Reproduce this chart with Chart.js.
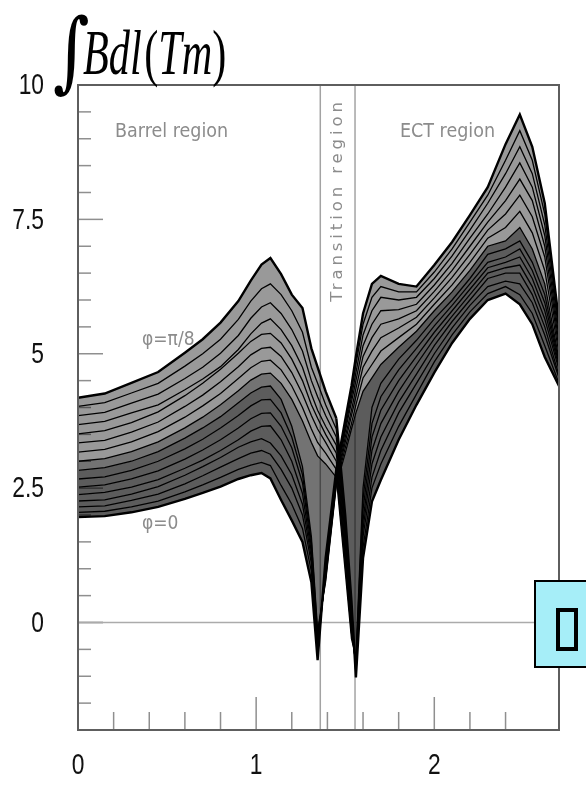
<!DOCTYPE html>
<html><head><meta charset="utf-8">
<script src="https://cdn.jsdelivr.net/npm/chart.js@4.4.1/dist/chart.umd.min.js"></script>
<style>
html,body{margin:0;padding:0;background:#fff;width:586px;height:785px;overflow:hidden;}
#wrap{position:relative;width:586px;height:785px;}
canvas{position:absolute;left:0;top:0;}
.t{position:absolute;white-space:nowrap;line-height:1;}
.note{color:#8c8c8c;font-family:'DejaVu Sans Condensed','DejaVu Sans',sans-serif;}
#box{position:absolute;left:534px;top:580px;width:60px;height:88px;background:#a6eef8;border:2px solid #000;box-sizing:border-box;}
#box span{position:absolute;left:20px;top:26px;width:22px;height:43px;border:4px solid #000;box-sizing:border-box;}
</style></head><body>
<div id="wrap">
<canvas id="c" width="586" height="785"></canvas>
<div class="t" style="left:53px;top:-1px;font:88px 'DejaVu Serif',serif;transform:scaleX(0.8);transform-origin:0 0;">∫</div>
<div class="t" style="left:83px;top:16px;font:italic 64px 'Liberation Serif',serif;transform:scaleX(0.66);transform-origin:0 0;">Bdl<span style="font-style:normal;margin-left:4px">(</span>Tm<span style="font-style:normal">)</span></div>
<div class="t note" style="left:115px;top:121px;font-size:19.5px;">Barrel region</div>
<div class="t note" style="left:400px;top:121px;font-size:19.5px;">ECT region</div>
<div class="t note" style="left:234px;top:191px;width:208px;text-align:center;font-size:16.5px;letter-spacing:3.9px;font-family:'DejaVu Sans',sans-serif;transform:rotate(-90deg);transform-origin:104px 9px;">Transition region</div>
<div class="t note" style="left:142px;top:329px;font-size:19px;">φ=π/8</div>
<div class="t note" style="left:142px;top:513px;font-size:19px;">φ=0</div>
<div id="box"><span></span></div>
</div>
<script>
// pseudorapidity |eta| sampling points (shared by all curves)
const eta = [0,0.15,0.3,0.45,0.6,0.7,0.8,0.9,0.97,1.03,1.08,1.14,1.2,1.26,1.31,1.345,1.39,1.45,1.5,1.535,1.56,1.6,1.65,1.7,1.8,1.9,2.0,2.1,2.2,2.3,2.4,2.48,2.55,2.62,2.7];

// azimuth labels of the curves, phi = 0 ... pi/8
const phiLabels = ['φ=0','φ=π/120','φ=π/60','φ=π/40','φ=π/30','φ=π/24','φ=π/20','φ=7π/120','φ=π/15','φ=3π/40','φ=π/12','φ=11π/120','φ=π/10','φ=13π/120','φ=7π/60','φ=π/8'];

// field integral (Tm) for each phi
const bdl00 = [1.96,1.98,2.05,2.15,2.30,2.41,2.53,2.67,2.74,2.78,2.68, 2.28,1.90,1.50,0.75,-0.70,1.20,2.85,3.77,4.40,4.95, 5.75,6.30,6.45,6.30,6.25,6.65,7.08,7.58,8.10,8.90,9.45,8.85,7.80,5.60];
const bdl01 = [2.05,2.07,2.15,2.26,2.43,2.56,2.70,2.85,2.93,2.98,2.92, 2.55,2.20,1.75,0.95,-0.62,1.10,2.80,3.70,4.30,4.80, 5.55,6.05,6.25,6.15,6.15,6.52,6.95,7.45,7.95,8.60,9.15,8.60,7.60,5.50];
const bdl02 = [2.15,2.17,2.27,2.39,2.58,2.73,2.89,3.05,3.15,3.20,3.13, 2.85,2.50,2.00,1.10,-0.55,1.00,2.75,3.62,4.20,4.65, 5.35,5.80,6.05,6.00,6.05,6.40,6.82,7.30,7.80,8.35,8.85,8.35,7.40,5.40];
const bdl03 = [2.26,2.28,2.39,2.53,2.74,2.90,3.07,3.26,3.36,3.42,3.34, 3.10,2.75,2.20,1.20,-0.45,0.95,2.70,3.55,4.10,4.50, 5.15,5.55,5.80,5.82,5.92,6.28,6.68,7.15,7.60,8.10,8.55,8.10,7.20,5.30];
const bdl04 = [2.38,2.42,2.52,2.66,2.87,3.02,3.20,3.40,3.56,3.65,3.66, 3.40,3.00,2.40,1.30,-0.38,0.90,2.65,3.45,3.95,4.35, 4.95,5.30,5.55,5.65,5.80,6.16,6.55,7.00,7.45,7.85,8.25,7.85,7.00,5.20];
const bdl05 = [2.52,2.56,2.67,2.82,3.04,3.21,3.40,3.62,3.79,3.89,3.90, 3.65,3.25,2.60,1.40,-0.30,0.85,2.62,3.35,3.85,4.20, 4.75,5.05,5.30,5.48,5.68,6.04,6.42,6.85,7.30,7.60,7.95,7.55,6.80,5.10];
const bdl06 = [2.67,2.71,2.83,3.00,3.23,3.41,3.62,3.85,4.03,4.14,4.15, 3.90,3.45,2.75,1.50,-0.22,0.80,2.58,3.25,3.70,4.05, 4.55,4.80,5.05,5.30,5.55,5.92,6.28,6.70,7.15,7.35,7.65,7.25,6.55,5.00];
const bdl07 = [2.83,2.88,3.00,3.18,3.43,3.62,3.83,4.09,4.27,4.38,4.40, 4.15,3.65,2.90,1.60,-0.15,0.76,2.55,3.15,3.60,3.90, 4.30,4.55,4.80,5.12,5.42,5.80,6.15,6.55,7.00,7.10,7.35,6.95,6.30,4.90];
const bdl08 = [3.00,3.05,3.18,3.36,3.62,3.82,4.05,4.31,4.51,4.62,4.64, 4.45,4.15,3.75,3.35,3.10,2.95,2.70,0.95,-0.30,-0.65, 2.50,4.00,4.45,4.90,5.25,5.65,6.00,6.40,6.85,6.95,7.10,6.70,6.10,4.85];
const bdl09 = [3.17,3.22,3.36,3.55,3.82,4.03,4.26,4.54,4.74,4.86,4.88, 4.70,4.40,4.00,3.60,3.35,3.15,2.85,1.15,-0.20,-0.72, 2.30,3.70,4.20,4.70,5.10,5.52,5.90,6.30,6.70,6.80,6.95,6.55,5.95,4.80];
const bdl10 = [3.34,3.39,3.54,3.73,4.02,4.23,4.48,4.76,4.98,5.10,5.12, 4.95,4.65,4.25,3.85,3.60,3.35,3.00,1.30,-0.10,-0.78, 2.10,3.45,3.95,4.50,4.95,5.40,5.80,6.20,6.60,6.70,6.80,6.40,5.80,4.75];
const bdl11 = [3.51,3.57,3.72,3.92,4.22,4.45,4.71,5.01,5.23,5.36,5.38, 5.20,4.90,4.50,4.05,3.80,3.50,3.15,1.45,0.00,-0.84, 1.90,3.20,3.70,4.30,4.80,5.28,5.70,6.10,6.50,6.60,6.65,6.25,5.65,4.70];
const bdl12 = [3.68,3.74,3.90,4.05,4.33,4.53,4.76,5.08,5.37,5.57,5.65, 5.45,5.15,4.75,4.25,3.95,3.65,3.30,1.60,0.10,-0.88, 1.75,2.95,3.45,4.10,4.62,5.15,5.60,6.00,6.40,6.50,6.50,6.10,5.50,4.60];
const bdl13 = [3.85,3.91,4.08,4.25,4.54,4.75,5.01,5.34,5.66,5.87,5.95, 5.75,5.45,5.05,4.50,4.20,3.85,3.45,1.75,0.20,-0.93, 1.60,2.70,3.20,3.90,4.45,5.00,5.48,5.90,6.25,6.35,6.30,5.95,5.35,4.55];
const bdl14 = [4.02,4.09,4.27,4.45,4.77,5.00,5.27,5.64,5.98,6.21,6.30, 6.10,5.80,5.40,4.75,4.45,4.05,3.60,1.85,0.30,-0.97, 1.40,2.50,2.95,3.65,4.25,4.85,5.35,5.78,6.12,6.25,6.10,5.75,5.15,4.45];
const bdl15 = [4.18,4.26,4.46,4.66,5.02,5.27,5.58,5.98,6.36,6.66,6.78, 6.48,6.10,5.85,5.10,4.75,4.30,3.80,2.00,0.40,-1.02, 1.20,2.25,2.65,3.40,4.05,4.65,5.20,5.65,6.00,6.12,5.92,5.55,4.94,4.40];

const curves = [bdl00,bdl01,bdl02,bdl03,bdl04,bdl05,bdl06,bdl07,bdl08,bdl09,bdl10,bdl11,bdl12,bdl13,bdl14,bdl15];

// region boundaries (eta) and axis ranges / tick labels
const transitionEdges = [1.36, 1.555];
const xRange = [0, 2.7];
const yRange = [-2, 10];
const xTickLabels = ['0','1','2'];
const yTickLabels = ['0','2.5','5','7.5','10'];

// shading between neighbouring curves: dense bundles look darker
const dark = 'rgba(0,0,0,0.64)', light = 'rgba(0,0,0,0.40)';
const bandShade = (k, etaStart) => {
  const lowGroup = k <= 7;
  if (etaStart < 1.4) return lowGroup ? dark : (k === 8 ? 'rgba(0,0,0,0.55)' : light);
  return lowGroup ? light : dark;
};

const datasets = curves.map((vals, k) => ({
  label: phiLabels[k],
  data: eta.map((e, i) => ({x: e, y: vals[i]})),
  borderColor: '#000',
  borderWidth: (k === 0 || k === 15) ? 2.4 : 1.3,
  pointRadius: 0,
  tension: 0,
  fill: k === 0 ? false : '-1',
  backgroundColor: k === 0 ? 'rgba(0,0,0,0)' : bandShade(k, 0),
  segment: {backgroundColor: c => k === 0 ? 'rgba(0,0,0,0)' : bandShade(k, c.p0.parsed.x)},
  order: 1
}));
transitionEdges.forEach(e => {
  datasets.push({label: 'edge', data: [{x: e, y: yRange[0]}, {x: e, y: yRange[1]}],
    borderColor: '#a3a3a3', borderWidth: 1.5, pointRadius: 0, fill: false, order: 5});
});
datasets.push({label: 'zero', data: [{x: xRange[0], y: 0}, {x: xRange[1], y: 0}],
  borderColor: '#ababab', borderWidth: 1.5, pointRadius: 0, fill: false, order: 5});

const near = (a, b) => Math.abs(a - b) < 1e-6;
const labelFont = "30px 'Liberation Sans', Arial, sans-serif";

const frameTicks = {
  id: 'frameTicks',
  beforeDatasetsDraw(chart) {
    const {ctx, chartArea: a, scales: {x, y}} = chart;
    ctx.save();
    ctx.lineWidth = 1.5;
    y.ticks.forEach(t => {
      const v = t.value;
      const major = near(v / 2.5, Math.round(v / 2.5));
      const py = y.getPixelForValue(v);
      ctx.strokeStyle = near(v, 0) ? '#555' : '#8f8f8f';
      ctx.beginPath(); ctx.moveTo(a.left, py); ctx.lineTo(a.left + (major ? 25 : 13), py); ctx.stroke();
    });
    ctx.strokeStyle = '#8f8f8f';
    x.ticks.forEach(t => {
      const v = t.value;
      if (!near(v / 0.2, Math.round(v / 0.2))) return;
      const major = near(v, Math.round(v));
      const px = x.getPixelForValue(v);
      ctx.beginPath(); ctx.moveTo(px, a.bottom); ctx.lineTo(px, a.bottom - (major ? 33 : 18)); ctx.stroke();
    });
    ctx.restore();
  },
  afterDatasetsDraw(chart) {
    const {ctx, chartArea: a, scales: {x, y}} = chart;
    ctx.save();
    ctx.strokeStyle = '#5e5e5e'; ctx.lineWidth = 2;
    ctx.strokeRect(a.left, a.top, a.right - a.left, a.bottom - a.top);
    // tick labels (narrow face, as in the original)
    ctx.fillStyle = '#111'; ctx.font = labelFont; ctx.textBaseline = 'middle';
    y.ticks.forEach(t => {
      const s = String(+t.value.toFixed(1));
      if (!yTickLabels.includes(s)) return;
      ctx.save(); ctx.translate(a.left - 34, y.getPixelForValue(t.value) + 1); ctx.scale(0.76, 1);
      ctx.textAlign = 'right'; ctx.fillText(s, 0, 0); ctx.restore();
    });
    x.ticks.forEach(t => {
      if (!near(t.value, Math.round(t.value))) return;
      const s = String(Math.round(t.value));
      if (!xTickLabels.includes(s)) return;
      ctx.save(); ctx.translate(x.getPixelForValue(t.value), a.bottom + 36); ctx.scale(0.76, 1);
      ctx.textAlign = 'center'; ctx.fillText(s, 0, 0); ctx.restore();
    });
    ctx.restore();
  }
};

new Chart(document.getElementById('c'), {
  type: 'line',
  data: {datasets},
  options: {
    responsive: false, animation: false, devicePixelRatio: 1,
    layout: {padding: {top: 85, right: 27, left: 0, bottom: 0}},
    plugins: {legend: {display: false}, tooltip: {enabled: false}},
    scales: {
      x: {
        type: 'linear', min: xRange[0], max: xRange[1],
        grid: {display: false, drawTicks: false}, border: {display: false},
        ticks: {display: false, stepSize: 0.2, autoSkip: false},
        afterFit: s => { s.height = 55; }
      },
      y: {
        type: 'linear', min: yRange[0], max: yRange[1],
        grid: {display: false, drawTicks: false}, border: {display: false},
        ticks: {display: false, stepSize: 0.5, autoSkip: false},
        afterFit: s => { s.width = 78; }
      }
    }
  },
  plugins: [frameTicks]
});
</script>
</body></html>
